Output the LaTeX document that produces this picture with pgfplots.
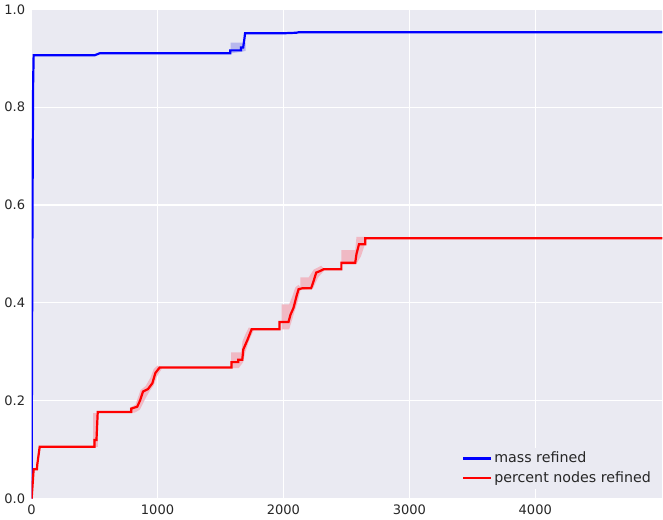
\documentclass[border=0pt]{standalone}
\usepackage{fontspec}
\setmainfont{DejaVu Sans}
\usepackage{pgfplots}
\pgfplotsset{compat=1.18}
\definecolor{sbbg}{HTML}{EAEAF2}
\definecolor{sbtext}{HTML}{262626}
\definecolor{band}{HTML}{F0B9C4}
\definecolor{bandb}{HTML}{B8B8EE}
\begin{document}
\fontsize{13bp}{15bp}\selectfont
\begin{tikzpicture}
\begin{axis}[
  scale only axis,
  width=629bp, height=488bp,
  xmin=0, xmax=5010, ymin=0, ymax=1,
  xtick={0,1000,2000,3000,4000},
  ytick={0,0.2,0.4,0.6,0.8,1.0},
  xticklabel style={/pgf/number format/set thousands separator={}, yshift=-2bp},
  yticklabel style={/pgf/number format/fixed, /pgf/number format/fixed zerofill,
    /pgf/number format/precision=1, xshift=-2bp},
  /pgf/number format/assume math mode=true,
  axis background/.style={fill=sbbg},
  axis line style={draw=none},
  major tick length=0pt,
  grid=major,
  major grid style={draw=white, line width=1.1bp},
  tick label style={text=sbtext, font=\fontsize{13bp}{15bp}\selectfont},
  legend style={draw=none, fill=sbbg, at={(0.99,0.02)}, anchor=south east,
    text=sbtext, row sep=3bp, font=\fontsize{14.2bp}{16bp}\selectfont},
  legend cell align=left,
  legend image code/.code={\draw[#1, line width=2.2bp] (0bp,0bp) -- (28bp,0bp);},
]
% shaded bands (red)
\addplot[fill=band, draw=none, forget plot] coordinates {(490,0.105)(490,0.175)(530,0.175)(530,0.105)} -- cycle;
\addplot[fill=band, draw=none, forget plot] coordinates {(780,0.176)(780,0.186)(825,0.192)(865,0.222)(905,0.23)(945,0.248)(970,0.265)(1000,0.272)(1035,0.266)(995,0.25)(970,0.232)(935,0.219)(900,0.203)(860,0.182)(820,0.176)} -- cycle;
\addplot[fill=band, draw=none, forget plot] coordinates {(1585,0.267)(1585,0.299)(1665,0.299)(1675,0.322)(1700,0.337)(1725,0.35)(1765,0.345)(1725,0.322)(1695,0.298)(1680,0.279)(1645,0.267)} -- cycle;
\addplot[fill=band, draw=none, forget plot] coordinates {(1985,0.346)(1985,0.397)(2045,0.397)(2070,0.413)(2095,0.432)(2120,0.437)(2140,0.43)(2110,0.40)(2085,0.38)(2062,0.36)(2045,0.346)} -- cycle;
\addplot[fill=band, draw=none, forget plot] coordinates {(2135,0.426)(2135,0.452)(2200,0.452)(2240,0.468)(2300,0.476)(2330,0.468)(2275,0.452)(2235,0.43)} -- cycle;
\addplot[fill=band, draw=none, forget plot] coordinates {(2460,0.478)(2460,0.508)(2570,0.508)(2580,0.535)(2650,0.535)(2650,0.522)(2615,0.495)(2575,0.478)} -- cycle;
% shaded band (blue)
\addplot[fill=bandb, draw=none, forget plot] coordinates {(1580,0.910)(1580,0.932)(1700,0.932)(1700,0.915)(1665,0.913)} -- cycle;
% mean curves
\addplot[blue, line width=2.2bp] coordinates {
(0,0)(3,0.3)(7,0.6)(12,0.85)(16,0.906)(500,0.906)(520,0.908)(540,0.910)
(1578,0.910)(1578,0.916)(1663,0.916)(1663,0.922)(1680,0.922)(1690,0.94)
(1695,0.951)(2000,0.951)(2100,0.952)(2120,0.953)(5010,0.953)};
\addplot[red, line width=2.2bp] coordinates {
(0,0)(8,0.03)(16,0.06)(42,0.06)(45,0.07)(64,0.106)(500,0.106)(500,0.12)
(515,0.12)(525,0.177)(791,0.177)(791,0.184)(839,0.188)(860,0.2)(885,0.219)
(924,0.224)(959,0.236)(983,0.257)(1017,0.268)(1588,0.268)(1588,0.279)
(1641,0.279)(1641,0.284)(1673,0.284)(1681,0.305)(1715,0.325)(1747,0.346)
(1968,0.346)(1968,0.361)(2040,0.361)(2056,0.376)(2080,0.39)(2104,0.414)
(2120,0.428)(2150,0.43)(2220,0.43)(2240,0.445)(2260,0.462)(2290,0.465)
(2320,0.469)(2460,0.469)(2460,0.482)(2570,0.482)(2580,0.50)(2600,0.52)
(2650,0.52)(2650,0.532)(5010,0.532)};
\legend{mass refined, percent nodes refined}
\end{axis}
\end{tikzpicture}
\end{document}
